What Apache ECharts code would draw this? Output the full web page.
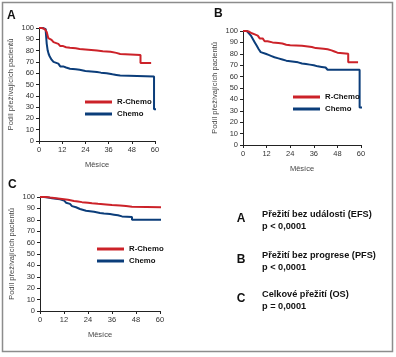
<!DOCTYPE html>
<html>
<head>
<meta charset="utf-8">
<script src="https://cdn.jsdelivr.net/npm/echarts@6/dist/echarts.min.js"></script>
<style>html,body{margin:0;padding:0;background:#fff}#c{width:396px;height:357px}</style>
</head>
<body>
<div id="c"></div>
<script>
// ---- data ----
var xTicks = [0, 12, 24, 36, 48, 60];
var seriesNames = ['R-Chemo', 'Chemo'];
var yAxisTitle = 'Podíl přežívajících pacientů';
var xAxisTitle = 'Měsíce';
var panelLabels = ['A', 'B', 'C'];
var endpointNames = ['Přežití bez události (EFS)', 'Přežití bez progrese (PFS)', 'Celkové přežití (OS)'];
var pValues = ['p < 0,0001', 'p < 0,0001', 'p = 0,0001'];

var aRChemo = [[0,100],[1.5,99],[3,98],[4,96.5],[4.8,91],[5.5,89.5],[6.5,88.5],[7.5,87.5],[8.5,86],[10,85],[11,84],[12.5,83],[14,82.5],[16,82],[19,81.5],[21,81],[24,80.5],[27,80],[30,79.5],[33,79],[37,79],[38,78],[40,77],[42,76],[52.5,69],[58,69]];
var aChemo = [[0,100],[2,99],[3.5,97],[4,86],[4.5,80],[5,77],[5.5,75],[6.5,72],[7.5,70],[8.5,68.5],[10,67],[11,66],[12.5,65],[14,64],[16,63.5],[19,63],[21,62],[24,61.5],[27,61],[30,60.5],[32,60],[35,59],[38,58.5],[40,58],[42,57],[59.5,28],[61.3,28]];
var bRChemo = [[0,100],[1.5,99.5],[3,98],[4.5,97],[6,96],[7.5,95],[8.5,93.5],[10,92],[11,91],[12.5,90],[15,89.5],[18,89],[20,88],[22,87.5],[24,87],[30,86.5],[33,86],[35,85],[37,84.5],[41,84],[43,83],[45,82],[46.5,81],[48,80],[53.5,72.5],[58.5,72.5]];
var bChemo = [[0,100],[2,99],[3,98],[4,96],[5,93],[6,90],[7,87],[8,84],[9,81.5],[10,80],[11.5,79],[13,78],[14.5,77],[16,76],[18,75],[20,74],[22,73.5],[24,73],[26,72.5],[28,71.5],[30,71],[32,70.5],[34,70],[36,69],[38,68.5],[40,68],[42,67],[43,66],[59.3,33],[61,33]];
var cRChemo = [[0,100],[3,99.5],[5,99],[8,98.5],[10,98],[12,97.5],[14,97],[15,96.5],[17,96],[19,95.5],[21,95],[24,94.5],[26,94],[29,93.5],[33,93],[36,92.5],[40,92],[43,91.5],[46,91],[61.5,91]];
var cChemo = [[0,100],[2,99.5],[4,99],[6,98.5],[8,98],[10,97],[12,96],[13,95],[14,94],[15,93],[16,92],[17,91],[18,90],[19,89.5],[20,89],[21,88],[23,87.5],[25,87],[27,86.5],[28,86],[30,85.5],[32,85],[35,84.5],[37,84],[39,83.5],[40,83],[41,82.5],[46,80],[61.5,80]];

var panelData = [[aRChemo, aChemo], [bRChemo, bChemo], [cRChemo, cChemo]];

// ---- layout / style ----
var RED = '#cc2229', BLUE = '#0b3d7a';
var FONT = 'Liberation Sans, Arial, sans-serif';
var grids = [
  {left: 39, top: 28, width: 116, height: 113},
  {left: 243, top: 31, width: 118, height: 114},
  {left: 40, top: 197, width: 120, height: 114}
];
var legendPos = [
  {left: 80, top: 91},
  {left: 288, top: 86},
  {left: 92, top: 238}
];
var panelLabelPos = [[7, 10], [214, 8], [8, 179]];

var chart = echarts.init(document.getElementById('c'), null, {renderer: 'canvas'});

var xAxes = [], yAxes = [], series = [], legends = [];
grids.forEach(function (g, i) {
  xAxes.push({
    gridIndex: i, type: 'value', min: 0, max: 60, interval: 12,
    name: xAxisTitle, nameLocation: 'middle', nameGap: 20,
    nameTextStyle: {fontFamily: FONT, fontSize: 7.5, color: '#444'},
    axisLine: {show: true, lineStyle: {color: '#222', width: 1}},
    axisTick: {show: true, length: 3, lineStyle: {color: '#222'}},
    axisLabel: {fontFamily: FONT, fontSize: 7.5, color: '#333', margin: 5},
    splitLine: {show: false}
  });
  yAxes.push({
    gridIndex: i, type: 'value', min: 0, max: 100, interval: 10,
    name: yAxisTitle, nameLocation: 'middle', nameGap: 24, nameRotate: 90,
    nameTextStyle: {fontFamily: FONT, fontSize: 7.5, color: '#444'},
    axisLine: {show: true, lineStyle: {color: '#222', width: 1}},
    axisTick: {show: true, length: 3, lineStyle: {color: '#222'}},
    axisLabel: {fontFamily: FONT, fontSize: 7.5, color: '#333', margin: 5},
    splitLine: {show: false}
  });
  [RED, BLUE].forEach(function (col, k) {
    series.push({
      name: seriesNames[k], type: 'line', step: 'end',
      xAxisIndex: i, yAxisIndex: i,
      data: panelData[i][k], symbol: 'none', clip: false,
      lineStyle: {color: col, width: 2}, itemStyle: {color: col},
      animation: false, z: k === 0 ? 3 : 2
    });
  });
  legends.push({
    left: legendPos[i].left, top: legendPos[i].top, orient: 'vertical',
    data: seriesNames.map(function (n) { return {name: n, icon: 'rect'}; }),
    itemWidth: 27, itemHeight: 3, itemGap: 0, selectedMode: false,
    textStyle: {fontFamily: FONT, fontSize: 7.8, fontWeight: 'bold', color: '#111', lineHeight: 12}
  });
});

var graphics = [{
  type: 'rect', shape: {x: 2.5, y: 2.5, width: 390, height: 349},
  style: {fill: 'none', stroke: '#8c8c8c', lineWidth: 1.5}, z: -1
}];
panelLabelPos.forEach(function (p, i) {
  graphics.push({type: 'text', left: p[0], top: p[1],
    style: {text: panelLabels[i], font: 'bold 12px ' + FONT, fill: '#111'}});
});
var blockY = [214, 255, 294];
blockY.forEach(function (y, i) {
  graphics.push({type: 'text', x: 241, y: y + 5, style: {text: panelLabels[i], font: 'bold 12px ' + FONT, fill: '#111', textAlign: 'center', textVerticalAlign: 'middle'}});
  graphics.push({type: 'text', x: 262, y: y, style: {text: endpointNames[i], font: 'bold 9.2px ' + FONT, fill: '#111', textVerticalAlign: 'middle'}});
  graphics.push({type: 'text', x: 262, y: y + 12, style: {text: pValues[i], font: 'bold 9.2px ' + FONT, fill: '#111', textVerticalAlign: 'middle'}});
});

chart.setOption({
  animation: false,
  backgroundColor: '#fff',
  grid: grids,
  xAxis: xAxes,
  yAxis: yAxes,
  legend: legends,
  series: series,
  graphic: graphics
});
</script>
</body>
</html>
